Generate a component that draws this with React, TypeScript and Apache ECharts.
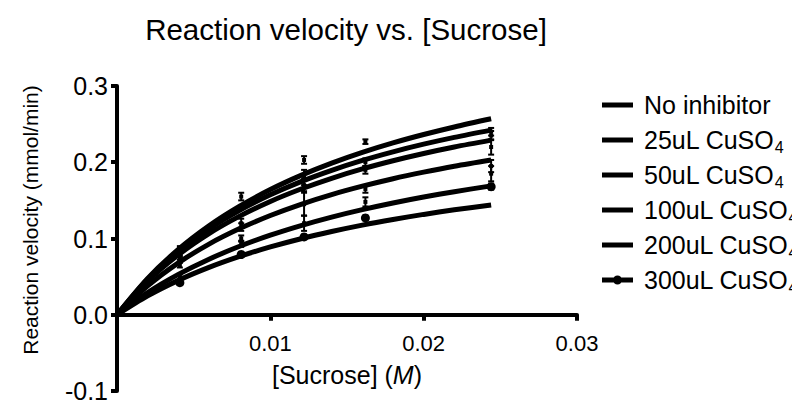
import React, { useEffect, useRef } from "react";
import * as echarts from "echarts";

// Fitted curve values
const curveX = [0, 0.002, 0.004, 0.006, 0.008, 0.01, 0.012, 0.014, 0.016, 0.018, 0.02, 0.022, 0.0244];
const fitNoInhibitor = [0, 0.0477, 0.0857, 0.1167, 0.1424, 0.1642, 0.1828, 0.1989, 0.213, 0.2254, 0.2364, 0.2463, 0.257];
const fit25 = [0, 0.0466, 0.0832, 0.1127, 0.137, 0.1573, 0.1746, 0.1894, 0.2024, 0.2137, 0.2237, 0.2326, 0.2421];
const fit50 = [0, 0.044, 0.0785, 0.1064, 0.1293, 0.1486, 0.1649, 0.179, 0.1913, 0.202, 0.2115, 0.22, 0.229];
const fit100 = [0, 0.0379, 0.0681, 0.0927, 0.113, 0.1302, 0.1449, 0.1576, 0.1686, 0.1784, 0.187, 0.1948, 0.203];
const fit200 = [0, 0.0291, 0.0529, 0.0729, 0.0898, 0.1044, 0.117, 0.1281, 0.1379, 0.1466, 0.1544, 0.1614, 0.169];
const fit300 = [0, 0.0248, 0.0451, 0.0621, 0.0765, 0.0889, 0.0997, 0.1091, 0.1175, 0.1249, 0.1316, 0.1376, 0.144];

// Measured points (mean ± SEM)
const pointX = [0.0041, 0.0081, 0.0122, 0.0162, 0.0244];
const meanNoInhibitor = [0.087, 0.155, 0.203, 0.227, 0.24];
const semNoInhibitor = [0.003, 0.005, 0.005, 0.003, 0.005];
const mean25 = [0.08, 0.12, 0.18, 0.2, 0.235];
const sem25 = [0.004, 0.006, 0.01, 0.005, 0.006];
const mean50 = [0.075, 0.115, 0.17, 0.19, 0.22];
const sem50 = [0.003, 0.005, 0.008, 0.005, 0.01];
const mean100 = [0.065, 0.1, 0.145, 0.165, 0.195];
const sem100 = [0.003, 0.004, 0.015, 0.005, 0.008];
const mean200 = [0.05, 0.093, 0.12, 0.148, 0.185];
const sem200 = [0.003, 0.004, 0.01, 0.006, 0.01];
const mean300 = [0.042, 0.079, 0.102, 0.127, 0.168];
const sem300 = [0.002, 0.003, 0.003, 0.003, 0.004];

const seriesNames = [
  "No inhibitor",
  "25uL CuSO4",
  "50uL CuSO4",
  "100uL CuSO4",
  "200uL CuSO4",
  "300uL CuSO4",
];
const fits = [fitNoInhibitor, fit25, fit50, fit100, fit200, fit300];
const means = [meanNoInhibitor, mean25, mean50, mean100, mean200, mean300];
const sems = [semNoInhibitor, sem25, sem50, sem100, sem200, sem300];

const xTicks = { min: 0, max: 0.03, interval: 0.01 };
const yTicks = { min: -0.1, max: 0.3, interval: 0.1 };

const FONT = "Liberation Sans";

const LINE_ICON = "path://M0 2.5H31V7.5H0Z";
const DOT_ICON =
  "path://M0 2.5H11.8V7.5H0Z M19.2 2.5H31V7.5H19.2Z M11 5A4.5 4.5 0 1 1 20 5A4.5 4.5 0 1 1 11 5Z";

const GRID_TOP = 78;
const GRID_BOTTOM = 9;
const CHART_H = 392;

export default function App() {
  const ref = useRef<HTMLDivElement>(null);
  useEffect(() => {
    if (!ref.current) return;
    const chart = echarts.init(ref.current, undefined, { renderer: "svg" });

    // place the x axis at y = 0 by offsetting it up from the grid bottom
    const plotH = CHART_H - GRID_TOP - GRID_BOTTOM;
    const zeroOffset = -plotH * ((0 - yTicks.min) / (yTicks.max - yTicks.min));

    const lineSeries = seriesNames.map((name, i) => ({
      name,
      type: "line",
      data: curveX.map((x, j) => [x, fits[i][j]]),
      smooth: 0.3,
      symbol: "none",
      lineStyle: { color: "#000", width: 5 },
      itemStyle: { color: "#000" },
      z: 2,
    }));

    const errSeries = seriesNames.map((name, i) => ({
      name: "err " + name,
      type: "custom",
      data: pointX.map((x, j) => [x, means[i][j], sems[i][j]]),
      renderItem: (params: any, api: any) => {
        const x = api.value(0);
        const m = api.value(1);
        const e = api.value(2);
        const top = api.coord([x, m + e]);
        const bot = api.coord([x, m - e]);
        const c = api.coord([x, m]);
        const hw = 3;
        const st = { stroke: "#000", lineWidth: 2 };
        return {
          type: "group",
          children: [
            { type: "line", shape: { x1: top[0], y1: top[1], x2: bot[0], y2: bot[1] }, style: st },
            { type: "line", shape: { x1: top[0] - hw, y1: top[1], x2: top[0] + hw, y2: top[1] }, style: st },
            { type: "line", shape: { x1: bot[0] - hw, y1: bot[1], x2: bot[0] + hw, y2: bot[1] }, style: st },
            i === 5
              ? { type: "circle", shape: { cx: c[0], cy: c[1], r: 4.5 }, style: { fill: "#000" } }
              : { type: "rect", shape: { x: c[0] - 2, y: c[1] - 2, width: 4, height: 4 }, style: { fill: "#000" } },
          ],
        };
      },
      z: 3,
    }));

    chart.setOption({
      animation: false,
      textStyle: { fontFamily: FONT },
      grid: {
        left: 109,
        right: 223,
        top: GRID_TOP,
        bottom: GRID_BOTTOM,
        containLabel: false,
        outerBoundsMode: "none",
      },
      graphic: [
        {
          type: "text",
          x: 338,
          y: 21,
          style: {
            text: "Reaction velocity vs. [Sucrose]",
            fontFamily: FONT,
            fontSize: 29.5,
            fill: "#000",
            align: "center",
            verticalAlign: "middle",
          },
        },
        {
          type: "text",
          x: 22,
          y: 212,
          rotation: Math.PI / 2,
          style: {
            text: "Reaction velocity (mmol/min)",
            fontFamily: FONT,
            fontSize: 21,
            fill: "#000",
            align: "center",
            verticalAlign: "middle",
          },
        },
      ],
      legend: {
        data: seriesNames.map((name, i) => ({
          name,
          icon: i === 5 ? DOT_ICON : LINE_ICON,
        })),
        orient: "vertical",
        left: 589,
        top: 77,
        itemWidth: 31,
        itemHeight: 10,
        itemGap: 5,
        itemStyle: { color: "#000", borderWidth: 0 },
        textStyle: {
          fontFamily: FONT,
          fontSize: 25,
          lineHeight: 30,
          color: "#000",
          padding: [0, 0, 0, 6],
          rich: {
            sub: { fontFamily: FONT, fontSize: 16, lineHeight: 30, verticalAlign: "bottom", color: "#000" },
          },
        },
        formatter: (name: string) => name.replace("CuSO4", "CuSO{sub|4}"),
      },
      xAxis: {
        type: "value",
        min: xTicks.min,
        max: xTicks.max,
        interval: xTicks.interval,
        offset: zeroOffset,
        axisLine: { onZero: false, lineStyle: { color: "#000", width: 4 } },
        axisTick: { length: 6, lineStyle: { color: "#000", width: 4 } },
        splitLine: { show: false },
        axisLabel: {
          color: "#000",
          fontFamily: FONT,
          fontSize: 22,
          margin: 18,
          formatter: (v: number) => (v === 0 ? "" : v.toFixed(2)),
        },
        name: "{n|[Sucrose] (}{i|M}{n|)}",
        nameLocation: "middle",
        nameGap: 48,
        nameTextStyle: {
          rich: {
            n: { fontFamily: FONT, fontSize: 25, color: "#000" },
            i: { fontFamily: FONT, fontSize: 25, fontStyle: "italic", color: "#000" },
          },
        },
      },
      yAxis: {
        type: "value",
        min: yTicks.min,
        max: yTicks.max,
        interval: yTicks.interval,
        axisLine: { show: true, onZero: false, lineStyle: { color: "#000", width: 4 } },
        axisTick: { show: true, length: 6, lineStyle: { color: "#000", width: 4 } },
        splitLine: { show: false },
        axisLabel: {
          color: "#000",
          fontFamily: FONT,
          fontSize: 25,
          margin: 9,
          formatter: (v: number) => v.toFixed(1),
        },
      },
      series: [...lineSeries, ...errSeries],
    });
    return () => chart.dispose();
  }, []);
  return <div ref={ref} style={{ width: 792, height: CHART_H }} />;
}
